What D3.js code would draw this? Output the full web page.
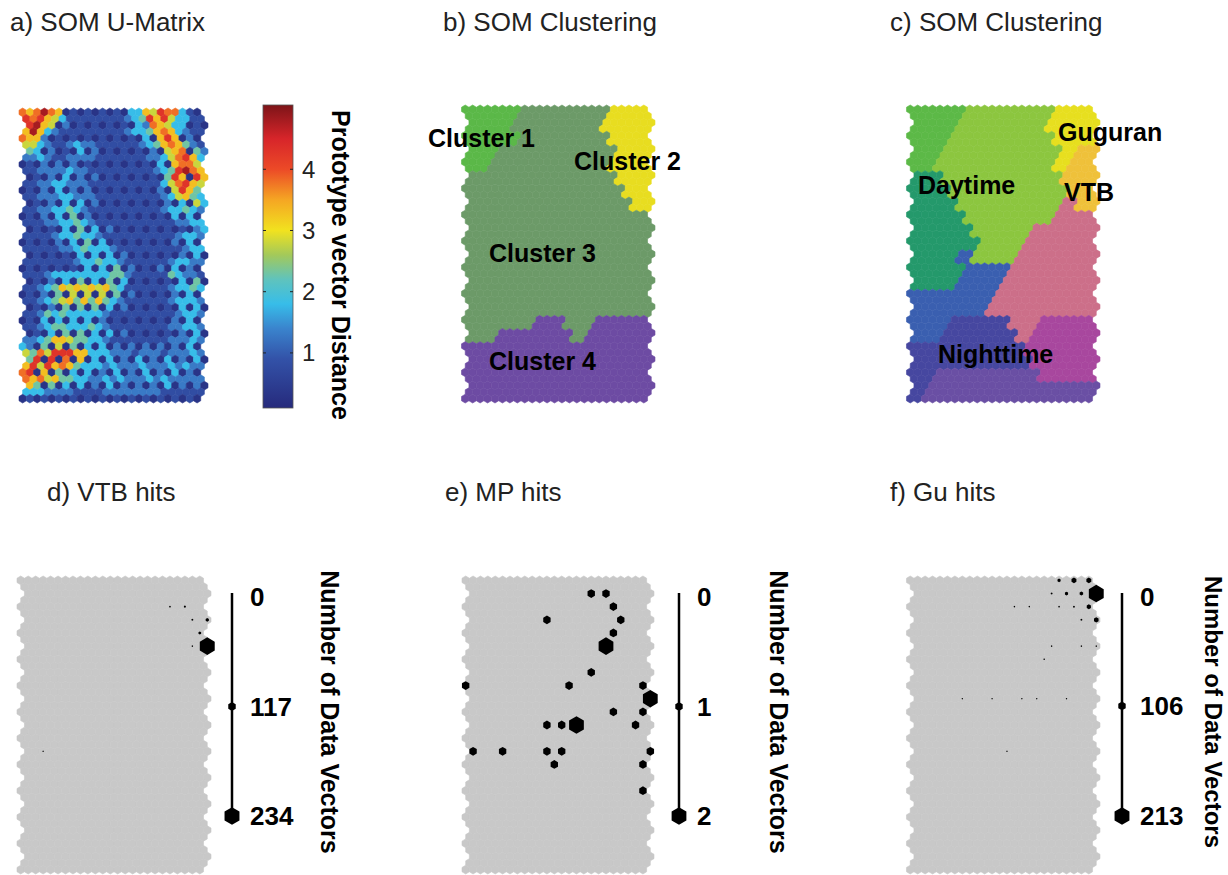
<!DOCTYPE html>
<html>
<head>
<meta charset="utf-8">
<title>SOM U-Matrix, clustering and hits</title>
<script src="https://cdn.jsdelivr.net/npm/d3@7"></script>
<style>
  body { margin: 0; background: #fff; }
  svg { display: block; font-family: "Liberation Sans", Arial, Helvetica, sans-serif; }
</style>
</head>
<body>
<svg id="fig" width="1228" height="875"></svg>
<script>
    // SOM is 23 rows x 13 columns, drawn on the U-matrix grid (45 x 25 cells)
    const N_ROWS = 23, N_COLS = 13;
    const N_FINE_ROWS = 2 * N_ROWS - 1, N_FINE_COLS = 2 * N_COLS - 1;

    // U-matrix, one digit per cell (level index into umatLevels)
    const umatLevels = [0.3, 0.8, 1.3, 1.8, 2.3, 2.8, 3.3, 3.8, 4.3, 4.8];
    const umatRows = [
        "7679760101010103365877310",
        "8786531111111123486853311",
        "8965020101010103276533010",
        "6963211111111123346763211",
        "7662010101010101030686020",
        "5532112322111111234676421",
        "4302010302010101020567042",
        "2232112222111111122357863",
        "0102020201010101010306775",
        "1122223221111111112348976",
        "0102030202010101010486086",
        "1122332221111111111357865",
        "0102030202010101010205864",
        "1122233222111111111235643",
        "0102030302010101010203053",
        "1122334321111111111233432",
        "0102030402010101010103030",
        "1112233432111111111112233",
        "0101030403020101010101023",
        "1111233433211111111112332",
        "0101020304030101010102030",
        "1111122343332111111111233",
        "0101010303030201010102030",
        "1111111233433211111123322",
        "0101010103030402010203020",
        "1112333333334421111143221",
        "0102030403040301010103040",
        "1123465656564311111123343",
        "0102040505050402010102030",
        "1123456464643211111123332",
        "0102040404030201010103030",
        "1124343333321111111112332",
        "0103030303020101010102030",
        "1123443334321111111122332",
        "0103040403030201010102030",
        "2234665443321111111122232",
        "3204050403030202020202030",
        "5475888663332221222122232",
        "4808070603030203020302030",
        "6858676433323222322232322",
        "7806040303020302030203020",
        "7675644332232322232322222",
        "6404030302030202020302020",
        "3332222111122222222111111",
        "0101010101010101010101010"
    ];
    const colorbarTicks = [1, 2, 3, 4];
    const colorbarDomain = [0.1, 5.05];

    // cluster of every SOM unit, one char per unit
    const clusterRowsB = [
        "1111333333222",
        "1113333332222",
        "1111333333222",
        "1133333333222",
        "1133333333222",
        "3333333333222",
        "3333333333322",
        "3333333333322",
        "3333333333333",
        "3333333333333",
        "3333333333333",
        "3333333333333",
        "3333333333333",
        "3333333333333",
        "3333333333333",
        "3333333333333",
        "3333344334444",
        "3344444344444",
        "4444444444444",
        "4444444444444",
        "4444444444444",
        "4444444444444",
        "4444444444444"
    ];
    const clusterLabelsB = ["Cluster 1", "Cluster 2", "Cluster 3", "Cluster 4"];

    const clusterRowsC = [
        "AAAADDDDDDYYY",
        "AAADDDDDDYYYY",
        "AAADDDDDDDYYY",
        "AADDDDDDDDYOO",
        "AADDDDDDDDYOO",
        "TTDDDDDDDDOOO",
        "TTTDDDDDDDDOO",
        "TTTDDDDDDDKOO",
        "TTTTDDDDDDKKK",
        "TTTTDDDDKKKKK",
        "TTTTTDDDKKKKK",
        "TTTBDDDKKKKKK",
        "TTTTBBBKKKKKK",
        "TTTBBBKKKKKKK",
        "BBBBBBKKKKKKK",
        "BBBBBKKKKKKKK",
        "BBBIIIIKKMMMM",
        "BBIIIIIKMMMMM",
        "IIIIIIIIMMMMM",
        "IIIIIIIIMMMMM",
        "IIPPPPPPPMMMM",
        "IPPPPPPPPPPPP",
        "IPPPPPPPPPPPP"
    ];
    const clusterLabelsC = ["Guguran", "Daytime", "VTB", "Nighttime"];

    // hits: [row, col, count]
    const vtbHits = [[2, 10, 25], [2, 11, 30], [3, 11, 28], [3, 12, 50], [4, 12, 42],
        [5, 11, 22], [5, 12, 234], [13, 1, 20]];
    const mpHits = [[1, 8, 1], [1, 9, 1], [2, 10, 1], [3, 5, 1], [3, 10, 1], [4, 10, 1],
        [5, 9, 2], [7, 8, 1], [8, 0, 1], [8, 7, 1], [8, 12, 1], [9, 12, 2], [10, 10, 1],
        [10, 12, 1], [11, 5, 1], [11, 6, 1], [11, 7, 2], [11, 11, 1], [13, 0, 1], [13, 2, 1],
        [13, 5, 1], [13, 6, 1], [13, 12, 1], [14, 6, 1], [14, 12, 1], [16, 12, 1]];
    const guHits = [[0, 10, 45], [0, 11, 70], [0, 12, 70], [1, 9, 25], [1, 10, 45], [1, 11, 50],
        [1, 12, 213], [2, 7, 20], [2, 8, 20], [2, 10, 22], [2, 11, 25], [2, 12, 60], [3, 11, 25],
        [3, 12, 65], [5, 9, 20], [5, 11, 20], [5, 12, 20], [6, 9, 20], [9, 3, 18], [9, 5, 18],
        [9, 7, 18], [9, 8, 18], [9, 10, 18], [13, 6, 18]];
    const vtbTicks = [0, 117, 234];
    const mpTicks = [0, 1, 2];
    const guTicks = [0, 106, 213];

    const titles = ["a) SOM U-Matrix", "b) SOM Clustering", "c) SOM Clustering",
        "d) VTB hits", "e) MP hits", "f) Gu hits"];

    // ---- styles ----
    const jetStops = [0.1, 0.9, 1.4, 1.8, 2.2, 2.6, 3.0, 3.5, 4.0, 4.5, 5.05];
    const jetColors = ['#262a7c', '#3352a8', '#3a84cd', '#37bde9', '#5fc3bd', '#a3c95a',
        '#f1e21f', '#f5a623', '#ec4a27', '#d7252a', '#7d1418'];
    const jet = d3.scaleLinear().domain(jetStops).range(jetColors);
    const colorB = d3.scaleOrdinal().domain(["1", "2", "3", "4"])
        .range(['#5bb848', '#e8dd20', '#6c9a68', '#6d4ba3']);
    const colorC = d3.scaleOrdinal().domain(["A", "D", "T", "B", "I", "P", "M", "K", "Y", "O"])
        .range(['#5cb947', '#8cc63f', '#24996b', '#3a5fb0', '#4647a0', '#6a4fa4',
            '#a8479e', '#cc6f89', '#e7df1f', '#efc13a']);
    const GREY = '#c8c8c8';

    const svg = d3.select('#fig');
    const OFFSETS = [0, 0.5, 1, 0.5];  // hexaU row shifts, in cell widths

    function makeGrid(x0, x1, y0, y1) {
        const x = d3.scaleLinear().domain([-0.5, N_FINE_COLS + 0.5]).range([x0, x1]);
        const rv = (y1 - y0) / (1.5 * (N_FINE_ROWS - 1) + 2);
        const y = d3.scaleLinear().domain([0, N_FINE_ROWS - 1]).range([y0 + rv, y1 - rv]);
        return {x: x, y: y, w: x(1) - x(0), rv: rv};
    }

    function hexPath(hw, rv) {
        return `M0,${-rv}L${hw},${-rv / 2}L${hw},${rv / 2}L0,${rv}L${-hw},${rv / 2}L${-hw},${-rv / 2}Z`;
    }

    function fineCells() {
        const cells = [];
        for (let f = 0; f < N_FINE_ROWS; f++)
            for (let k = 0; k < N_FINE_COLS; k++)
                cells.push({f: f, k: k, u: k + OFFSETS[f % 4]});
        return cells;
    }

    function drawCells(g, grid, fill) {
        g.selectAll('path.cell').data(fineCells()).join('path')
            .attr('class', 'cell')
            .attr('d', hexPath(grid.w / 2, grid.rv))
            .attr('transform', d => `translate(${grid.x(d.u)},${grid.y(d.f)})`)
            .attr('fill', fill)
            .attr('stroke', fill)
            .attr('stroke-width', 0.6);
    }

    // SOM unit closest to a U-matrix cell (first one wins on ties)
    function nearestUnit(d) {
        let best = [0, 0], bd = Infinity;
        for (const i of [Math.floor(d.f / 2), Math.ceil(d.f / 2)]) {
            for (let j = 0; j < N_COLS; j++) {
                const dx = 2 * j + (i % 2) - d.u, dy = (2 * i - d.f) * 0.866;
                const dist = dx * dx + dy * dy;
                if (dist < bd - 1e-9) { bd = dist; best = [i, j]; }
            }
        }
        return best;
    }

    function addTitle(text, x, y) {
        svg.append('text').attr('x', x).attr('y', y).text(text)
            .attr('font-size', '26px').attr('fill', '#222');
    }

    function boldLabel(g, text, x, y, size) {
        g.append('text').attr('x', x).attr('y', y).text(text)
            .attr('font-size', size + 'px').attr('font-weight', 'bold').attr('fill', '#000');
    }

    function rotatedLabel(text, cx, cy, size) {
        svg.append('text')
            .attr('transform', `translate(${cx},${cy}) rotate(90)`)
            .attr('text-anchor', 'middle')
            .attr('dominant-baseline', 'central')
            .attr('font-size', size + 'px').attr('font-weight', 'bold')
            .text(text);
    }

    // ---- a) U-matrix ----
    const gridA = makeGrid(19, 208, 108, 403);
    drawCells(svg.append('g'), gridA, d => {
        const ch = (umatRows[d.f] || '')[d.k];
        return jet(umatLevels[ch === undefined ? 1 : +ch]);
    });

    // colour bar
    const cbY = d3.scaleLinear().domain(colorbarDomain).range([408, 105]);
    const grad = svg.append('defs').append('linearGradient')
        .attr('id', 'jetGrad').attr('x1', 0).attr('y1', 1).attr('x2', 0).attr('y2', 0);
    jetStops.forEach(v => {
        grad.append('stop')
            .attr('offset', (v - colorbarDomain[0]) / (colorbarDomain[1] - colorbarDomain[0]))
            .attr('stop-color', jet(v));
    });
    const cbX0 = 263, cbX1 = 293;
    svg.append('rect').attr('x', cbX0).attr('y', cbY(colorbarDomain[1]))
        .attr('width', cbX1 - cbX0).attr('height', cbY(colorbarDomain[0]) - cbY(colorbarDomain[1]))
        .attr('fill', 'url(#jetGrad)').attr('stroke', '#555').attr('stroke-width', 0.8);
    const cbTicks = svg.append('g');
    colorbarTicks.forEach(t => {
        cbTicks.append('line').attr('x1', cbX0).attr('x2', cbX0 + 3)
            .attr('y1', cbY(t)).attr('y2', cbY(t)).attr('stroke', '#222');
        cbTicks.append('line').attr('x1', cbX1 - 3).attr('x2', cbX1)
            .attr('y1', cbY(t)).attr('y2', cbY(t)).attr('stroke', '#222');
        cbTicks.append('text').attr('x', 302).attr('y', cbY(t))
            .attr('dominant-baseline', 'central').attr('font-size', '24px')
            .attr('fill', '#222').text(t);
    });
    rotatedLabel('Prototype vector Distance', 341, 265, 25);

    // ---- b) and c) clusterings ----
    const gridB = makeGrid(461.5, 655, 105, 403);
    const gB = svg.append('g');
    drawCells(gB, gridB, d => {
        const [i, j] = nearestUnit(d);
        return colorB(clusterRowsB[i][j]);
    });
    boldLabel(gB, clusterLabelsB[0], 428, 147, 25);
    boldLabel(gB, clusterLabelsB[1], 574, 170, 25);
    boldLabel(gB, clusterLabelsB[2], 489, 262, 25);
    boldLabel(gB, clusterLabelsB[3], 489, 370, 25);

    const gridC = makeGrid(906.5, 1100, 105, 403);
    const gC = svg.append('g');
    drawCells(gC, gridC, d => {
        const [i, j] = nearestUnit(d);
        return colorC(clusterRowsC[i][j]);
    });
    boldLabel(gC, clusterLabelsC[0], 1058, 141, 25);
    boldLabel(gC, clusterLabelsC[1], 918, 194, 25);
    boldLabel(gC, clusterLabelsC[2], 1064, 201, 25);
    boldLabel(gC, clusterLabelsC[3], 938, 363, 25);

    // ---- d) e) f) hit histograms ----
    function drawHitsPanel(x0, x1, hits, ticks, lineX, labelX) {
        const grid = makeGrid(x0, x1, 576, 874);
        const g = svg.append('g');
        drawCells(g, grid, GREY);
        const maxHits = ticks[ticks.length - 1];
        const size = d3.scaleLinear().domain([0, maxHits]).range([0, 1]);
        g.selectAll('path.hit').data(hits).join('path')
            .attr('class', 'hit')
            .attr('d', d => hexPath(grid.w * size(d[2]), 2 * grid.rv * size(d[2])))
            .attr('transform', d => `translate(${grid.x(2 * d[1] + d[0] % 2)},${grid.y(2 * d[0])})`)
            .attr('fill', '#000');

        // size legend
        const ly = d3.scaleLinear().domain([0, maxHits]).range([597, 816]);
        const leg = svg.append('g');
        leg.append('line').attr('x1', lineX).attr('x2', lineX)
            .attr('y1', 593).attr('y2', ly(maxHits))
            .attr('stroke', '#000').attr('stroke-width', 2.5);
        leg.selectAll('path.mk').data(ticks.slice(1)).join('path')
            .attr('class', 'mk')
            .attr('d', t => hexPath(grid.w * size(t), 2 * grid.rv * size(t)))
            .attr('transform', t => `translate(${lineX},${ly(t)})`)
            .attr('fill', '#000');
        leg.selectAll('text').data(ticks).join('text')
            .attr('x', labelX).attr('y', t => ly(t))
            .attr('dominant-baseline', 'central')
            .attr('font-size', '26px').attr('font-weight', 'bold')
            .text(t => t);
    }

    drawHitsPanel(17, 211, vtbHits, vtbTicks, 232, 250);
    drawHitsPanel(462, 654, mpHits, mpTicks, 679, 697);
    drawHitsPanel(906.5, 1100, guHits, guTicks, 1122, 1140);
    rotatedLabel('Number of Data Vectors', 330, 712, 25);
    rotatedLabel('Number of Data Vectors', 779, 712, 25);
    rotatedLabel('Number of Data Vectors', 1213, 712, 24);

    // ---- titles ----
    addTitle(titles[0], 10, 31);
    addTitle(titles[1], 443, 31);
    addTitle(titles[2], 890, 31);
    addTitle(titles[3], 47, 501);
    addTitle(titles[4], 445, 501);
    addTitle(titles[5], 890, 501);
</script>
</body>
</html>
